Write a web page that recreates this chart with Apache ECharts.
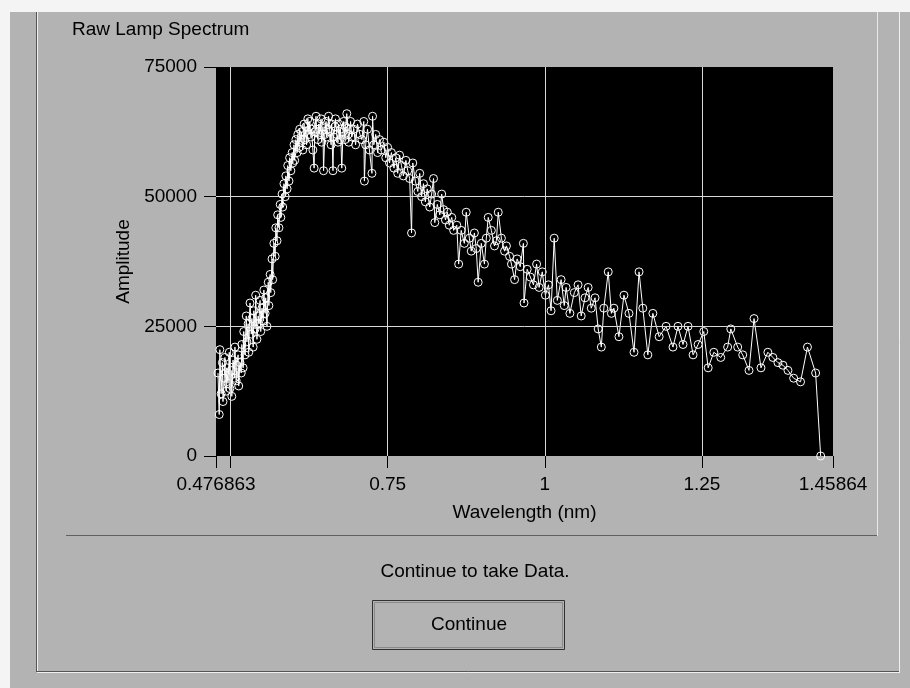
<!DOCTYPE html>
<html>
<head>
<meta charset="UTF-8">
<title>Raw Lamp Spectrum</title>
<script src="https://cdn.jsdelivr.net/npm/echarts@6/dist/echarts.min.js"></script>
<style>
  html, body { margin: 0; padding: 0; background: #b3b3b3; }
  #main { width: 910px; height: 688px; }
</style>
</head>
<body>
<div id="main"></div>
<script>
// wavelength (nm) of each sample
var wavelength = [
  0.480,0.482,0.483,0.485,0.487,0.488,0.490,0.491,0.493,0.494,
  0.496,0.498,0.499,0.501,0.502,0.504,0.506,0.507,0.509,0.510,
  0.512,0.513,0.515,0.517,0.518,0.520,0.521,0.523,0.525,0.526,
  0.528,0.529,0.531,0.533,0.534,0.536,0.537,0.539,0.540,0.542,
  0.544,0.545,0.547,0.548,0.550,0.552,0.553,0.555,0.556,0.558,
  0.560,0.561,0.563,0.564,0.566,0.567,0.569,0.571,0.572,0.574,
  0.575,0.577,0.579,0.580,0.582,0.583,0.585,0.587,0.588,0.590,
  0.591,0.593,0.594,0.596,0.598,0.599,0.601,0.602,0.604,0.606,
  0.607,0.609,0.610,0.612,0.613,0.615,0.617,0.618,0.620,0.621,
  0.623,0.625,0.626,0.628,0.629,0.631,0.633,0.634,0.636,0.637,
  0.639,0.640,0.642,0.644,0.645,0.647,0.648,0.650,0.652,0.653,
  0.655,0.656,0.658,0.660,0.661,0.663,0.664,0.666,0.667,0.669,
  0.671,0.672,0.674,0.675,0.677,0.679,0.680,0.682,0.683,0.685,
  0.687,0.688,0.690,0.691,0.693,
  0.696,0.699,0.702,0.706,0.709,0.712,0.713,0.715,0.718,0.721,
  0.725,0.726,0.728,0.731,0.734,0.737,0.740,0.744,0.747,0.750,
  0.753,0.756,0.760,0.763,0.766,0.769,0.772,0.775,0.779,0.782,
  0.785,0.788,0.790,0.794,0.798,0.801,0.804,0.807,0.810,0.813,
  0.817,0.820,0.823,0.825,0.829,0.833,0.836,0.839,0.842,0.845,
  0.848,0.852,0.855,0.860,0.863,0.867,0.872,0.875,0.880,0.883,
  0.888,0.891,0.894,0.899,0.904,0.907,0.910,0.915,0.920,0.923,
  0.926,0.931,0.936,0.939,0.944,0.947,0.952,0.956,0.961,0.966,
  0.967,0.972,0.977,0.982,0.987,0.991,0.996,1.001,1.006,1.010,
  1.015,1.020,1.026,1.031,1.034,1.040,1.047,1.053,1.058,1.064,
  1.069,1.074,1.080,1.085,1.090,1.094,1.101,1.106,1.110,1.118,
  1.126,1.134,1.142,1.150,1.156,1.164,1.172,1.182,1.193,1.204,
  1.212,1.220,1.228,1.236,1.244,1.253,1.260,1.269,1.280,1.291,
  1.296,1.307,1.315,1.325,1.333,1.344,1.355,1.363,1.371,1.379,
  1.387,1.396,1.407,1.418,1.431,1.439
];

// amplitude of each sample
var amplitude = [
  16000,8000,20500,12000,18000,10500,15000,19000,12500,17000,
  14000,20000,13000,16500,11500,18500,15000,21000,14500,17500,
  19500,13500,18000,16000,21500,17000,24000,19500,27000,22000,
  25500,20000,29500,23500,26500,21000,28000,24500,31000,22500,
  27000,25500,30000,24000,28500,26000,32000,27500,30500,25000,
  33500,29000,35000,31500,38000,34000,41000,38500,44000,41500,
  46500,44000,48500,46000,50500,48000,52500,50000,54000,51500,
  56000,53000,57500,55000,58500,56500,60000,57000,61000,58500,
  62000,59500,63000,60500,62500,59000,64000,61000,63500,60000,
  65000,62000,64500,61500,63000,59000,55500,62500,65500,63000,
  61000,64000,62000,65000,60500,63500,55000,62000,64500,61500,
  63000,65500,62500,60000,64000,55000,61500,63500,65000,62000,
  60500,64000,61000,63000,55500,62500,64500,61000,63500,66000,
  62000,60500,63000,64500,61500,
  63000,60000,64000,62000,61000,64500,53000,60000,63000,59000,
  54500,65500,60000,62000,58500,61000,59000,60500,57500,59500,
  56500,58500,55500,57500,54500,58000,56000,54000,57000,55000,
  53500,43000,56500,53000,51000,54500,50000,52500,49000,51500,
  48000,50500,53500,45000,48500,46500,50500,47500,45500,47000,
  44500,46000,43500,44500,37000,43500,41000,47000,42000,39500,
  43000,40000,33500,41000,37000,42000,46000,43500,40500,41500,
  47000,42000,39500,40500,38500,37000,34000,38000,36500,41000,
  29500,36000,34500,33000,37000,32500,35500,31000,33000,28000,
  42000,30000,34000,29000,32500,27500,31500,33000,27000,30500,
  32500,28500,30500,24500,21000,28500,35500,27500,28500,23000,
  31000,27500,20000,35500,28500,19500,27500,23000,25000,21000,
  25000,21500,25000,19500,21500,24000,17000,20000,19000,21000,
  24500,21000,19500,16500,26500,17000,20000,19000,18000,17500,
  16500,15000,14300,21000,16000,0
];

var xMin = 0.476863, xMax = 1.45864;
var xTickValues = [0.476863, 0.5, 0.75, 1, 1.25, 1.45864];
var xLabelValues = [0.476863, 0.75, 1, 1.25, 1.45864];
var gridX = [0.5, 0.75, 1, 1.25];
var gridY = [25000, 50000];

var FONT = 'Liberation Sans';
var points = [];
for (var i = 0; i < wavelength.length; i++) {
  points.push([wavelength[i], amplitude[i]]);
}

var marks = [];
gridX.forEach(function (v) { marks.push({ xAxis: v }); });
gridY.forEach(function (v) { marks.push({ yAxis: v }); });

var chart = echarts.init(document.getElementById('main'));
chart.setOption({
  animation: false,
  backgroundColor: '#b3b3b3',
  textStyle: { fontFamily: FONT },
  graphic: [
    // white margin top / left
    { type: 'rect', shape: { x: 0, y: 0, width: 910, height: 12 }, style: { fill: '#f4f4f4' }, silent: true },
    { type: 'rect', shape: { x: 0, y: 0, width: 10, height: 688 }, style: { fill: '#f4f4f4' }, silent: true },
    // outer frame
    { type: 'line', shape: { x1: 36.5, y1: 12, x2: 36.5, y2: 672 }, style: { stroke: '#555', lineWidth: 1 } },
    { type: 'line', shape: { x1: 37.5, y1: 12, x2: 37.5, y2: 672 }, style: { stroke: '#f0f0f0', lineWidth: 1 } },
    { type: 'line', shape: { x1: 37, y1: 671.5, x2: 900, y2: 671.5 }, style: { stroke: '#555', lineWidth: 1 } },
    { type: 'line', shape: { x1: 37, y1: 672.5, x2: 900, y2: 672.5 }, style: { stroke: '#f0f0f0', lineWidth: 1 } },
    { type: 'line', shape: { x1: 899.5, y1: 12, x2: 899.5, y2: 673 }, style: { stroke: '#f0f0f0', lineWidth: 1 } },
    // graph panel
    { type: 'line', shape: { x1: 66, y1: 535.5, x2: 878, y2: 535.5 }, style: { stroke: '#606060', lineWidth: 1 } },
    { type: 'line', shape: { x1: 877.5, y1: 12, x2: 877.5, y2: 536 }, style: { stroke: '#e8e8e8', lineWidth: 1 } },
    // title
    { type: 'text', x: 72, y: 20, style: { text: 'Raw Lamp Spectrum', font: '19px "Liberation Sans"', fill: '#000' } },
    // message and button
    { type: 'text', x: 475, y: 572, style: { text: 'Continue to take Data.', font: '19px "Liberation Sans"', fill: '#000', align: 'center', verticalAlign: 'middle' } },
    { type: 'rect', shape: { x: 372.5, y: 600.5, width: 192, height: 49 }, style: { fill: 'none', stroke: '#303030', lineWidth: 1 } },
    { type: 'rect', shape: { x: 374.5, y: 602.5, width: 188, height: 45 }, style: { fill: 'none', stroke: '#8a8a8a', lineWidth: 1 } },
    { type: 'text', x: 469, y: 625, style: { text: 'Continue', font: '19px "Liberation Sans"', fill: '#000', align: 'center', verticalAlign: 'middle' } }
  ],
  grid: {
    left: 216, right: 77, top: 67, bottom: 232,
    show: true, backgroundColor: '#000', borderWidth: 0
  },
  xAxis: {
    type: 'value',
    min: xMin, max: xMax,
    name: 'Wavelength (nm)',
    nameLocation: 'middle',
    nameGap: 47,
    nameTextStyle: { color: '#000', fontSize: 19, fontFamily: FONT },
    axisLine: { show: false },
    axisTick: { show: true, length: 12, customValues: xTickValues, lineStyle: { color: '#000', width: 1 } },
    axisLabel: {
      customValues: xLabelValues, margin: 19, color: '#000', fontSize: 19, fontFamily: FONT,
      showMinLabel: true, showMaxLabel: true,
      formatter: function (v) { return String(v); }
    },
    splitLine: { show: false }
  },
  yAxis: {
    type: 'value',
    min: 0, max: 75000, interval: 25000,
    name: 'Amplitude',
    nameLocation: 'middle',
    nameGap: 66,
    nameTextStyle: { color: '#000', fontSize: 19, fontFamily: FONT },
    axisLine: { show: false },
    axisTick: { show: true, length: 12, lineStyle: { color: '#000', width: 1 } },
    axisLabel: {
      margin: 19, color: '#000', fontSize: 19, fontFamily: FONT,
      formatter: function (v) { return String(v); }
    },
    splitLine: { show: false }
  },
  series: [
    {
      type: 'line',
      data: [],
      z: 1,
      silent: true,
      markLine: {
        silent: true,
        symbol: 'none',
        label: { show: false },
        lineStyle: { color: '#d8d8d8', width: 1, type: 'solid' },
        data: marks
      }
    },
    {
      type: 'line',
      data: points,
      z: 2,
      symbol: 'circle',
      symbolSize: 8,
      showAllSymbol: true,
      lineStyle: { color: '#fff', width: 1 },
      itemStyle: { color: 'rgba(0,0,0,0)', borderColor: '#fff', borderWidth: 1 },
      emphasis: { disabled: true }
    }
  ]
});
</script>
</body>
</html>
